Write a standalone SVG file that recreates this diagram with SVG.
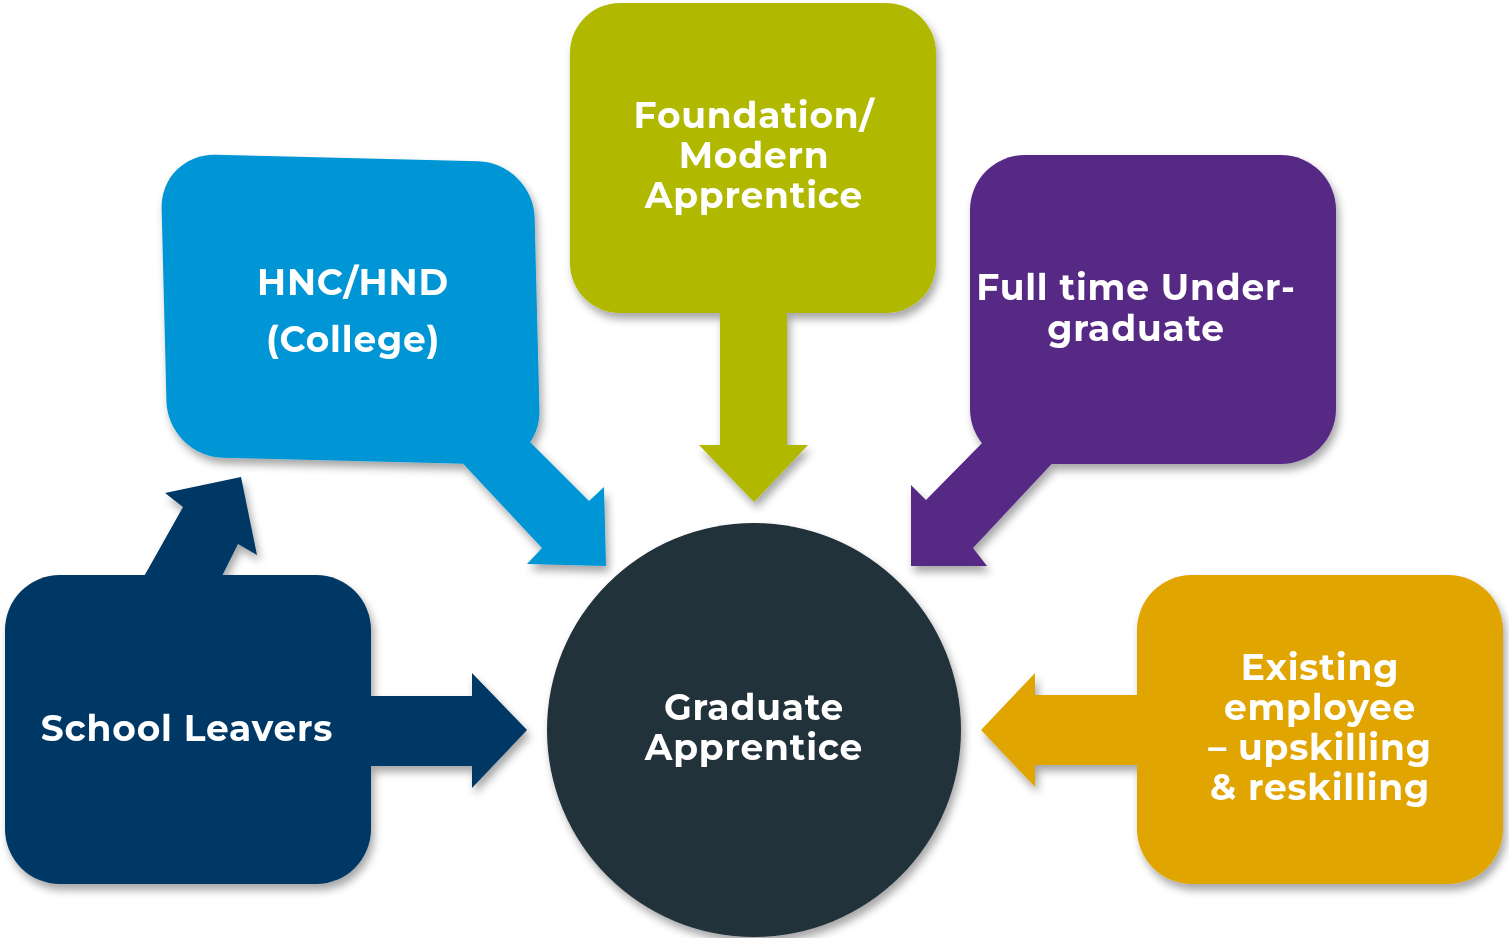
<svg xmlns="http://www.w3.org/2000/svg" width="1509" height="938" viewBox="0 0 1509 938">
<defs>
<filter id="sh" x="-10%" y="-10%" width="125%" height="130%">
<feDropShadow dx="3" dy="6" stdDeviation="4" flood-color="#000" flood-opacity="0.35"/>
</filter>
</defs>
<style>
.t{font-family:"Montserrat","Open Sans","Liberation Sans",sans-serif;font-weight:700;fill:#fff;text-anchor:middle;font-size:36px;letter-spacing:0.8px}
</style>
<rect width="1509" height="938" fill="#fff"/>
<g id="connectors"></g>
<g id="school-leavers" filter="url(#sh)" fill="#003865">
<polygon points="142,580 183,507 165,493 241,477 257,555 238,544 220,580"/>
<polygon points="360,696 472,696 472,673 527,730 472,788 472,766 360,766"/>
<rect x="5" y="575" width="366" height="309" rx="55"/>
<text class="t" x="187" y="741">School Leavers</text>
</g>
<g id="hnc" filter="url(#sh)" fill="#0096D6">
<polygon points="455,455 542,548 527,564 606,566 604,487 589,501 525,437"/>
<rect x="164" y="158" width="373" height="303" rx="55" transform="matrix(1 0.025 0.025 1 -7.7 -8.75)"/>
<text class="t" x="353" y="295">HNC/HND</text>
<text class="t" x="353" y="352">(College)</text>
</g>
<g id="foundation" filter="url(#sh)" fill="#B0B800">
<polygon points="720,300 787,300 787,445 808,445 754,502 699,445 720,445"/>
<rect x="570" y="3" width="366" height="310" rx="50"/>
<text class="t" x="754" y="128">Foundation/</text>
<text class="t" x="754" y="168">Modern</text>
<text class="t" x="754" y="208">Apprentice</text>
</g>
<g id="fulltime" filter="url(#sh)" fill="#572A84">
<polygon points="1060,455 973,548 987,566 911,566 911,485 926,500 990,435"/>
<rect x="970" y="155" width="366" height="309" rx="55"/>
<text class="t" x="1136" y="300">Full time Under-</text>
<text class="t" x="1136" y="341">graduate</text>
</g>
<g id="existing" filter="url(#sh)" fill="#E0A500">
<polygon points="1145,695 1035,695 1035,673 981,730 1035,787 1035,765 1145,765"/>
<rect x="1137" y="575" width="366" height="309" rx="55"/>
<text class="t" x="1320" y="680">Existing</text>
<text class="t" x="1320" y="720">employee</text>
<text class="t" x="1320" y="760">– upskilling</text>
<text class="t" x="1320" y="800">&amp; reskilling</text>
</g>
<g id="graduate" filter="url(#sh)">
<circle cx="754" cy="730" r="207" fill="#24303B"/>
<text class="t" x="754" y="720">Graduate</text>
<text class="t" x="754" y="760">Apprentice</text>
</g>
</svg>
